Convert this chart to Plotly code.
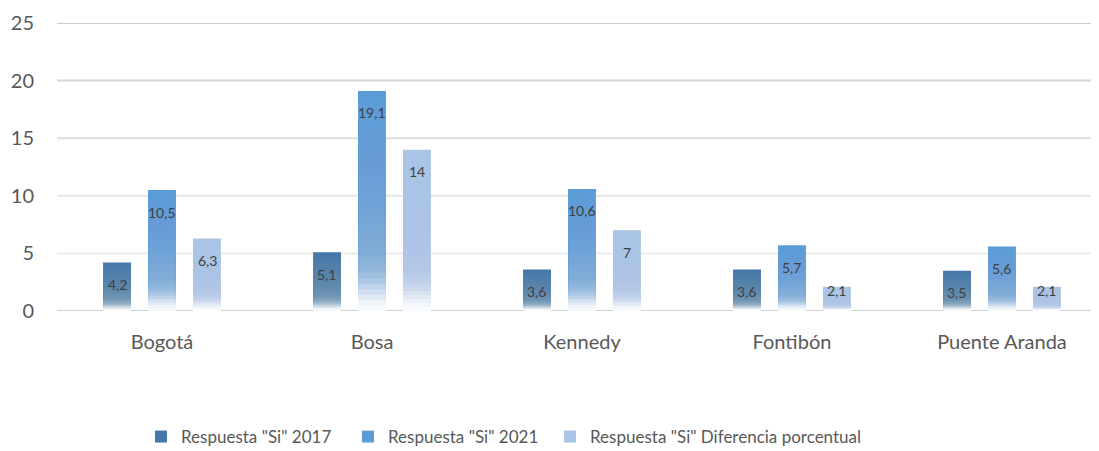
import plotly.graph_objects as go

categories = ["Bogotá", "Bosa", "Kennedy", "Fontibón", "Puente Aranda"]
series_names = ['Respuesta "Si" 2017', 'Respuesta "Si" 2021', 'Respuesta "Si" Diferencia porcentual']
si_2017 = [4.2, 5.1, 3.6, 3.6, 3.5]
si_2021 = [10.5, 19.1, 10.6, 5.7, 5.6]
si_diff = [6.3, 14, 7, 2.1, 2.1]
labels_2017 = ["4,2", "5,1", "3,6", "3,6", "3,5"]
labels_2021 = ["10,5", "19,1", "10,6", "5,7", "5,6"]
labels_diff = ["6,3", "14", "7", "2,1", "2,1"]
y_ticks = [0, 5, 10, 15, 20, 25]

series = [si_2017, si_2021, si_diff]
labels = [labels_2017, labels_2021, labels_diff]
colors = ["#4676aa", "#5a9cd7", "#aac4e6"]
legend_ids = ["legend", "legend2", "legend3"]
legend_x = [0.0812, 0.2814, 0.4768]

bar_w = 0.133
centers = [-0.214, 0.0, 0.214]
px_shift = [-45, 0, 45]

# target white-overlay profile (height fraction -> white amount)
prof = [(0.0, 0.96), (0.04, 0.88), (0.08, 0.72), (0.12, 0.55), (0.18, 0.40),
        (0.25, 0.30), (0.4, 0.22), (0.6, 0.13), (0.8, 0.06), (1.0, 0.0)]


def W(h):
    for (h0, w0), (h1, w1) in zip(prof[:-1], prof[1:]):
        if h0 <= h <= h1:
            return w0 + (w1 - w0) * (h - h0) / (h1 - h0)
    return 0.0


n_layers = 40
fade = []
prev = 0.0
for k in range(n_layers, 0, -1):
    h = k / n_layers
    w = W(h - 1.0 / n_layers)
    a = 1 - (1 - w) / (1 - prev) if prev < 1 else 0
    fade.append((h, max(a, 0.0)))
    prev = w

fig = go.Figure()
for i, vals in enumerate(series):
    fig.add_trace(go.Bar(
        x=categories, y=vals, name=series_names[i],
        marker=dict(color=colors[i], line=dict(width=0)),
        width=bar_w, offset=centers[i] - bar_w / 2,
        hoverinfo="skip", legend=legend_ids[i],
    ))
    for frac, op in fade:
        fig.add_trace(go.Bar(
            x=categories, y=[v * frac for v in vals],
            marker=dict(color="white", opacity=op, line=dict(width=0)),
            width=bar_w, offset=centers[i] - bar_w / 2,
            showlegend=False, hoverinfo="skip",
        ))

annotations = []
for i, vals in enumerate(series):
    for c, v, t in zip(categories, vals, labels[i]):
        annotations.append(dict(
            x=c, y=v, text=t, showarrow=False, xref="x", yref="y",
            xshift=px_shift[i], yshift=-22 if v > 3 else -4,
            font=dict(family="Lato, sans-serif", size=14, color="#404040"),
        ))

grid_colors = ["#d0d0d0", "#ececec", "#e6e6e6", "#dedede", "#d6d6d6", "#cdcdcd"]
shapes = []
for t, gc in zip(y_ticks, grid_colors):
    shapes.append(dict(type="line", xref="paper", yref="y", x0=0, x1=1, y0=t, y1=t,
                       line=dict(color=gc, width=2), layer="below"))

legend_style = dict(orientation="h", xanchor="left", y=-0.4375, yanchor="middle",
                    font=dict(size=17, color="#595959"), itemwidth=30,
                    bgcolor="rgba(0,0,0,0)")

fig.update_layout(
    width=1099, height=470,
    margin=dict(l=49, r=16, t=15, b=167),
    barmode="overlay",
    plot_bgcolor="white", paper_bgcolor="white",
    font=dict(family="Lato, sans-serif", color="#595959"),
    annotations=annotations,
    shapes=shapes,
    legend=dict(x=legend_x[0], **legend_style),
    legend2=dict(x=legend_x[1], **legend_style),
    legend3=dict(x=legend_x[2], **legend_style),
    xaxis=dict(type="category", showgrid=False, showline=False,
               ticks="", tickfont=dict(size=20, color="#595959"),
               ticklabelstandoff=17, range=[-0.5, 4.424], automargin=False),
    yaxis=dict(range=[0, 25], tickvals=y_ticks, showgrid=False,
               zeroline=False, showline=False, ticks="",
               tickfont=dict(size=20, color="#595959"), ticklabelstandoff=22,
               ticklabeloverflow="allow", automargin=False),
)

fig.write_html("out.html")
